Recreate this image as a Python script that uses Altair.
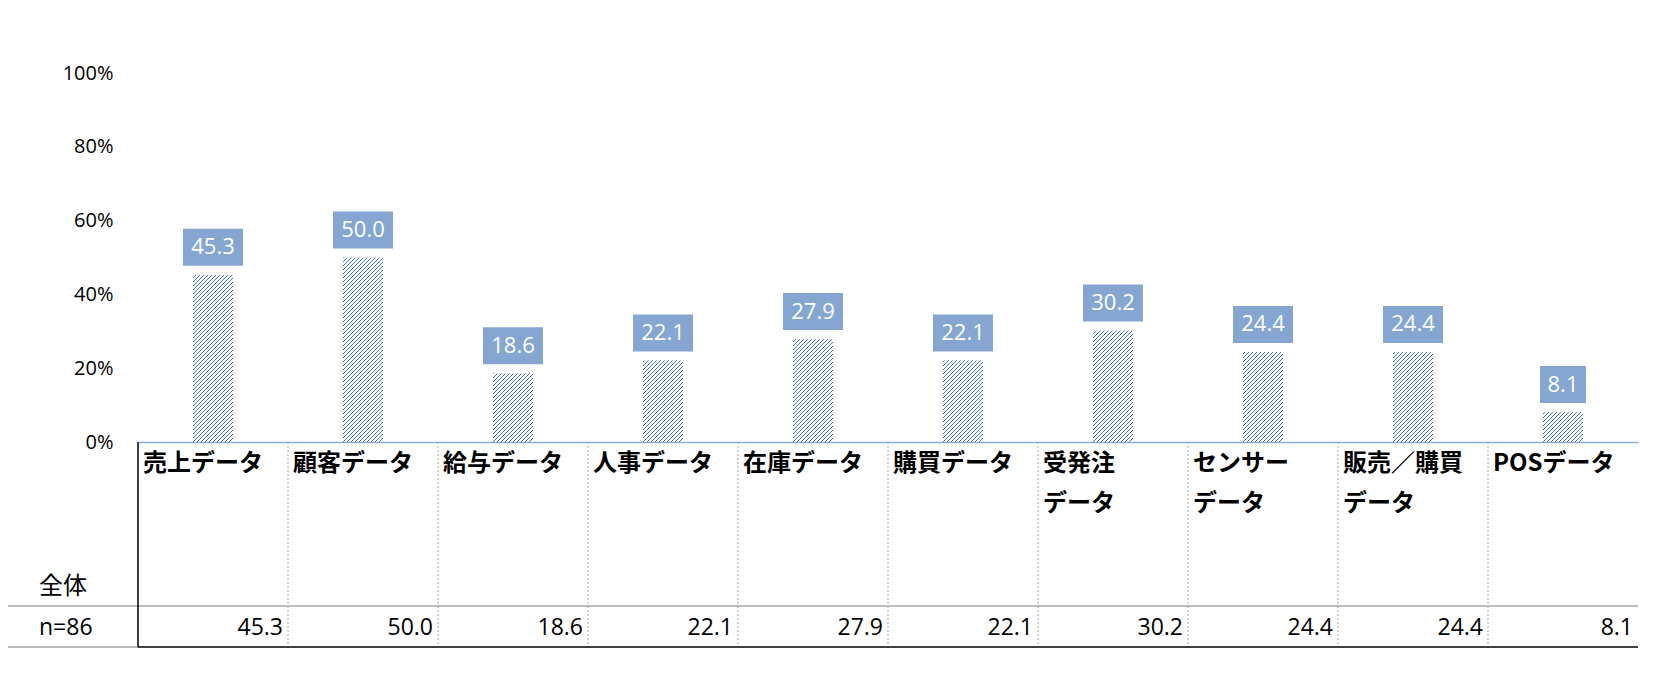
import altair as alt
import pandas as pd

# ---- data ----
categories = ["売上データ", "顧客データ", "給与データ", "人事データ", "在庫データ",
              "購買データ", "受発注\nデータ", "センサー\nデータ", "販売／購買\nデータ", "POSデータ"]
values = [45.3, 50.0, 18.6, 22.1, 27.9, 22.1, 30.2, 24.4, 24.4, 8.1]
y_ticks = [0, 20, 40, 60, 80, 100]
row_label = ["全体"]
n_label = ["n=86"]

# ---- layout / style constants ----
W, H = 1500, 369
NC = len(categories)
PXX = W / NC          # px per x unit (one column)
PXY = H / 100.0       # px per percentage point
BW = 40               # bar width px
HS = 4                # hatch spacing px
TABLE_TOP = H
ROW_LINE = H + 164
TABLE_BOTTOM = H + 205
LEFT_EDGE = -130

NUM_FONT = "Open Sans"
JP_FONT = "Noto Sans CJK JP"

df = pd.DataFrame({"cat": categories, "value": values, "idx": list(range(NC))})
base = alt.Chart(df)

xs = alt.Scale(domain=[0, NC], nice=False, zero=False)
ys = alt.Scale(domain=[0, 100], nice=False)
xaxis = alt.Axis(title=None, labels=False, ticks=False, grid=False, domain=True,
                 domainColor="#8FAADC", domainWidth=1.5, orient="bottom")
yaxis = alt.Axis(title=None, values=y_ticks, labelExpr="datum.value + '%'", ticks=False,
                 grid=False, domain=False, labelFont=NUM_FONT, labelFontSize=20,
                 labelColor="#000000", labelPadding=25)

# hatched bars drawn as diagonal rules clipped to each bar
hatch = (
    base.transform_calculate(ks="sequence(0, 70)")
    .transform_flatten(["ks"], as_=["k"])
    .transform_calculate(c=f"datum.k*{HS} - {BW}", h=f"datum.value*{PXY}")
    .transform_calculate(u0="max(0, -datum.c)", u1=f"min({BW}, datum.h - datum.c)")
    .transform_filter("datum.u1 > datum.u0 + 0.2")
    .transform_calculate(
        hx=f"datum.idx + 0.5 + (datum.u0 - {BW/2})/{PXX}",
        hx2=f"datum.idx + 0.5 + (datum.u1 - {BW/2})/{PXX}",
        hy=f"(datum.u0 + datum.c)/{PXY}",
        hy2=f"(datum.u1 + datum.c)/{PXY}",
    )
    .mark_rule(color="#4472C4", strokeWidth=1)
    .encode(
        x=alt.X("hx:Q", scale=xs, axis=xaxis), x2="hx2:Q",
        y=alt.Y("hy:Q", scale=ys, axis=yaxis), y2="hy2:Q",
    )
)

lab = base.transform_calculate(
    label="format(datum.value, '.1f')",
    cx="datum.idx + 0.5",
    cx1="datum.idx + 1",
).transform_calculate(
    bx=f"datum.cx - (length(datum.label)*7 + 2)/{PXX}",
    bx2=f"datum.cx + (length(datum.label)*7 + 2)/{PXX}",
)

boxes = lab.mark_rect(color="#85A6D1", yOffset=-9, y2Offset=-46).encode(
    x=alt.X("bx:Q", scale=xs, axis=xaxis), x2="bx2:Q",
    y=alt.Y("value:Q", scale=ys, axis=yaxis), y2="value:Q",
)

box_text = lab.mark_text(color="white", font=NUM_FONT, fontSize=22, baseline="middle",
                         align="center", dy=-27.5).encode(
    x=alt.X("cx:Q", scale=xs, axis=xaxis),
    y=alt.Y("value:Q", scale=ys, axis=yaxis),
    text="label:N",
)

# ---- table below ----
seps = base.transform_filter("datum.idx > 0").mark_rule(
    color="#A6A6A6", strokeDash=[2, 2], strokeWidth=1).encode(
    x=alt.X("idx:Q", scale=xs, axis=xaxis),
    y=alt.value(TABLE_TOP), y2=alt.value(TABLE_BOTTOM),
)

one = alt.Chart(pd.DataFrame({"t": row_label, "n": n_label}))

row_line = one.mark_rule(color="#A6A6A6", strokeWidth=1.5).encode(
    x=alt.value(LEFT_EDGE), x2=alt.value(W), y=alt.value(ROW_LINE))
bottom_left = one.mark_rule(color="#A6A6A6", strokeWidth=1.5).encode(
    x=alt.value(LEFT_EDGE), x2=alt.value(0), y=alt.value(TABLE_BOTTOM))
bottom_right = one.mark_rule(color="#000000", strokeWidth=1.5).encode(
    x=alt.value(0), x2=alt.value(W), y=alt.value(TABLE_BOTTOM))
left_border = one.mark_rule(color="#000000", strokeWidth=1.5).encode(
    x=alt.value(0), y=alt.value(TABLE_TOP), y2=alt.value(TABLE_BOTTOM))

cat_text = base.mark_text(align="left", baseline="top", font=JP_FONT, fontSize=24,
                          fontWeight="bold", lineBreak="\n", lineHeight=39.5, dx=5,
                          color="#000000").encode(
    x=alt.X("idx:Q", scale=xs, axis=xaxis),
    y=alt.value(TABLE_TOP + 10),
    text="cat:N",
)

val_text = lab.mark_text(align="right", baseline="middle", font=NUM_FONT, fontSize=23,
                         dx=-5, color="#000000").encode(
    x=alt.X("cx1:Q", scale=xs, axis=xaxis),
    y=alt.value(TABLE_BOTTOM - 19),
    text="label:N",
)

row_text = one.mark_text(align="left", baseline="middle", font=JP_FONT, fontSize=24,
                         color="#000000").encode(
    x=alt.value(-99), y=alt.value(ROW_LINE - 19), text="t:N")
n_text = one.mark_text(align="left", baseline="middle", font=NUM_FONT, fontSize=23,
                       color="#000000").encode(
    x=alt.value(-99), y=alt.value(TABLE_BOTTOM - 19), text="n:N")

chart = alt.layer(
    hatch, boxes, box_text, seps, row_line, bottom_left, bottom_right, left_border,
    cat_text, val_text, row_text, n_text,
).properties(
    width=W, height=H,
    background="white",
    autosize=alt.AutoSizeParams(type="none"),
    padding={"left": 130, "top": 65, "right": 27, "bottom": 215},
).configure_view(strokeWidth=0, stroke="transparent")

chart.save("out.html", embed_options={"renderer": "svg", "actions": False})
